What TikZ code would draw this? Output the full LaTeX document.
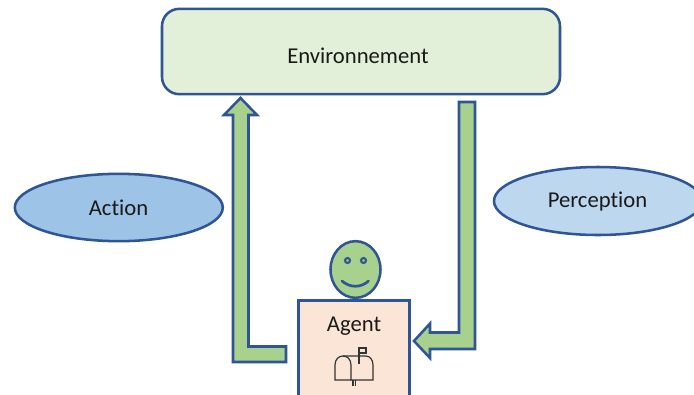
\documentclass[tikz,border=0pt]{standalone}
\usepackage{fontspec}
\setmainfont[Ligatures=NoCommon]{Carlito}
\usetikzlibrary{shapes.geometric}
\definecolor{edgeblue}{HTML}{2F5597}
\definecolor{arrowgreen}{HTML}{A9D18E}
\definecolor{envgreen}{HTML}{E2F0D9}
\definecolor{agentpeach}{HTML}{FBE5D6}
\definecolor{actionblue}{HTML}{9DC3E6}
\definecolor{percblue}{HTML}{BDD7EE}
\definecolor{inkdark}{HTML}{1A1A1A}
\tikzset{
  outlined/.style={draw=edgeblue,line width=1.9pt},
  envbox/.style={outlined,fill=envgreen,rectangle,rounded corners=13pt,minimum width=298.5pt,minimum height=64pt,inner sep=0pt},
  agentbox/.style={outlined,fill=agentpeach,rectangle,minimum width=83pt,minimum height=90pt,inner sep=0pt},
  ell/.style={outlined,ellipse,inner sep=0pt,minimum width=156pt,minimum height=50.5pt},
  blockarrow/.style={outlined,fill=arrowgreen,line join=miter},
  labeltext/.style={font=\fontsize{17}{20}\selectfont,text=inkdark,inner sep=0pt},
  thinink/.style={draw=black!80,line width=0.9pt}
}
\begin{document}
\begin{tikzpicture}[x=0.75pt,y=-0.75pt]
\clip (0,0) rectangle (694,394);
\fill[white] (0,0) rectangle (694,394);
\node[envbox] (env) at (361,51.5) {};
\node[labeltext] (envt) at (358,56) {Environnement};
\node[ell,fill=actionblue] (action) at (118.8,207.5) {};
\node[labeltext] (actiont) at (118.5,207.5) {Action};
\node[ell,fill=percblue,minimum width=156pt,minimum height=51pt] (perc) at (598,201) {};
\node[labeltext] (perct) at (597.5,201.5) {Perception};
\node[agentbox,anchor=north] (agent) at (354,299) {};
\node[labeltext] (agentt) at (354,326) {Agent};
\node[outlined,fill=arrowgreen,ellipse,minimum width=37.5pt,minimum height=42.5pt,inner sep=0pt] (face) at (355.5,269.5) {};
% left arrow (agent to environment)
\draw[blockarrow] (286,346.5) -- (248.5,346.5) -- (248.5,115) -- (257,115) -- (240.5,98) -- (224,115) -- (233,115) -- (233,362) -- (286,362) -- cycle;
% right arrow (environment to agent)
\draw[blockarrow] (459,102) -- (475,102) -- (475,349) -- (430,349) -- (430,358) -- (414,341) -- (430,323.5) -- (430,332.5) -- (459,332.5) -- cycle;
% face details
\draw[outlined,line width=1.6pt] (347.5,260.5) circle (2.5);
\draw[outlined,line width=1.6pt] (363.5,260.5) circle (2.5);
\draw[edgeblue,line width=2pt,line cap=round] (342,281) .. controls (350,288) and (361,288) .. (368.5,281);
% mailbox icon
\draw[thinink] (335,380) -- (335,365) .. controls (335,359) and (339,356) .. (343,356) .. controls (347,356) and (351,359) .. (351,365) -- (351,380) -- cycle;
\draw[thinink] (343,356) -- (366,356) .. controls (370,356) and (373,360) .. (373,365) -- (373,380) -- (351,380);
\draw[thinink] (359,364) -- (359,348) -- (366,348) -- (366,353) -- (359,353);
\draw[thinink] (353,380) -- (353,386) (355.5,380) -- (355.5,386);
\end{tikzpicture}
\end{document}
